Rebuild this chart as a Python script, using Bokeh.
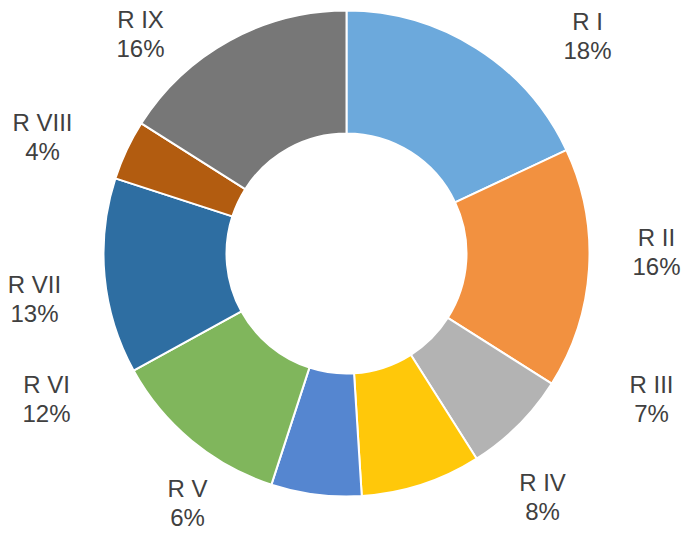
import math
from bokeh.plotting import figure
from bokeh.models import ColumnDataSource, Range1d
from bokeh.core.properties import value
from bokeh.embed import file_html
from bokeh.resources import INLINE

# ---- data ----
regions = ["R I", "R II", "R III", "R IV", "R V", "R VI", "R VII", "R VIII", "R IX"]
shares = [18, 16, 7, 8, 6, 12, 13, 4, 16]
colors = ["#6CA9DC", "#F29140", "#B3B3B3", "#FFC80A", "#5586D0",
          "#80B65C", "#2E6EA2", "#B25C10", "#777777"]

# ---- layout (label anchors, data units = pixels, y up) ----
W, H = 683, 534
label_xy = [(587, H - 21), (656, H - 237), (651, H - 384), (542, H - 482),
            (187, H - 488), (46, H - 384), (34, H - 284), (42, H - 122),
            (140, H - 19)]
cx, cy = 346, H - 253
r_out, r_in = 243, 120
line_gap = 29

total = float(sum(shares))
starts, ends = [], []
acc = 0.0
for s in shares:
    a0 = acc / total * 2 * math.pi
    acc += s
    a1 = acc / total * 2 * math.pi
    starts.append(math.pi / 2 - a0)
    ends.append(math.pi / 2 - a1)

src = ColumnDataSource(dict(start=starts, end=ends, color=colors,
                            x=[cx] * len(shares), y=[cy] * len(shares)))

p = figure(width=W, height=H, output_backend="svg", toolbar_location=None,
           x_range=Range1d(0, W), y_range=Range1d(0, H), min_border=0)
p.axis.visible = False
p.grid.visible = False
p.outline_line_color = None
p.background_fill_color = "white"

p.annular_wedge(x="x", y="y", inner_radius=r_in, outer_radius=r_out,
                start_angle="start", end_angle="end", direction="clock",
                fill_color="color", line_color="white", line_width=2, source=src)

pct = [f"{s}%" for s in shares]
lsrc = ColumnDataSource(dict(
    x=[xy[0] for xy in label_xy],
    y=[xy[1] for xy in label_xy],
    y2=[xy[1] - line_gap for xy in label_xy],
    name=regions, pct=pct))

for ycol, tcol in (("y", "name"), ("y2", "pct")):
    p.text(x="x", y=ycol, text=tcol, source=lsrc, text_align="center",
           text_baseline="middle", text_font=value("Liberation Sans"),
           text_font_size="24px", text_color="#404040")

open("out.html", "w").write(file_html(p, INLINE))
